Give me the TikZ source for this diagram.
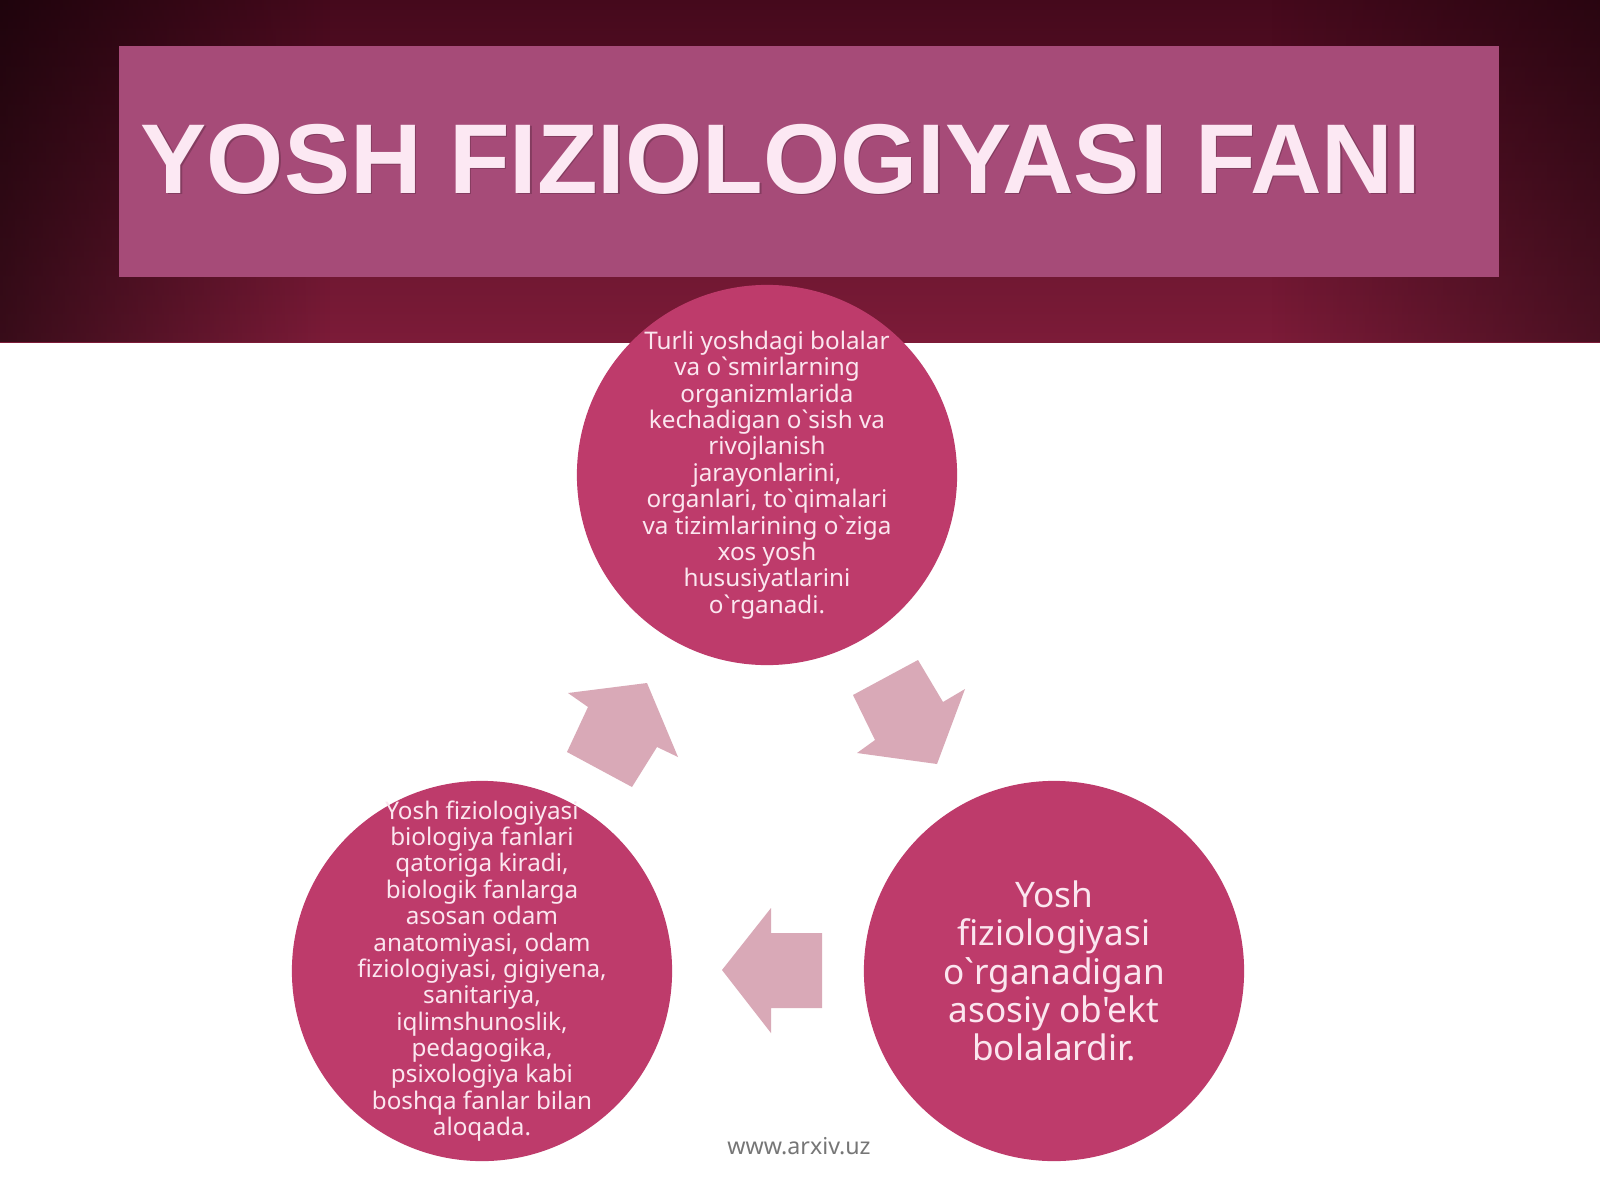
\documentclass[tikz,border=0pt]{standalone}
\usepackage{fontspec}
\newfontfamily\bubblefont{Noto Sans}[Ligatures=TeXOff]
\newfontfamily\titlefont{Liberation Sans}
\usepackage{tikz}
\usetikzlibrary{fadings}
\definecolor{bandtop}{HTML}{45091C}
\definecolor{bandbottom}{HTML}{7C1B38}
\definecolor{titlebox}{HTML}{A64B78}
\definecolor{titletext}{HTML}{FCE8F3}
\definecolor{bubblepink}{HTML}{BE3B6B}
\definecolor{bubbletext}{HTML}{FBE6EF}
\definecolor{arrowpink}{HTML}{D9A9B7}
\definecolor{footergrey}{HTML}{767676}

\begin{document}
\begin{tikzpicture}[
    x = 0.01cm, y = -0.01cm,
    bubble/.style = {circle, fill=bubblepink, minimum size=3.8cm, inner sep=0pt},
    bubblesmall/.style = {align=center, text=bubbletext, inner sep=0pt,
      font=\bubblefont\fontsize{6.9}{7.5}\selectfont},
    bubblebig/.style = {align=center, text=bubbletext, inner sep=0pt,
      font=\bubblefont\fontsize{10}{10.9}\selectfont},
    titlestyle/.style = {anchor=base west, inner sep=0pt,
      font=\titlefont\bfseries\fontsize{28.2}{30}\selectfont},
    blockarrow/.style = {fill=arrowpink}
    ]
    \useasboundingbox (0,0) rectangle (1600,1200);
    \fill[white] (0,0) rectangle (1600,1200);
    % dark red band behind the title
    \shade[top color=bandtop, bottom color=bandbottom] (0,0) rectangle (1600,342);
    \fill[black, opacity=0.55, path fading=east] (0,0) rectangle (330,342);
    \fill[black, opacity=0.4, path fading=west] (1270,0) rectangle (1600,342);
    \fill[titlebox] (119,46) rectangle (1499,277);
    \node[titlestyle, text=black, opacity=0.2] at (141.5,194.5) {YOSH FIZIOLOGIYASI FANI};
    \node[titlestyle, text=titletext] (title) at (140,193) {YOSH FIZIOLOGIYASI FANI};

    \node[bubble] (growth) at (767,475) {};
    \node[bubble] (sciences) at (482,971) {};
    \node[bubble] (object) at (1054,971) {};

    \node[bubblesmall] at (growth) {Turli yoshdagi bolalar\\ va o`smirlarning\\ organizmlarida\\
      kechadigan o`sish va\\ rivojlanish\\ jarayonlarini,\\ organlari, to`qimalari\\
      va tizimlarining o`ziga\\ xos yosh\\ hususiyatlarini\\ o`rganadi.};
    \node[bubblesmall] at (sciences) {Yosh fiziologiyasi\\ biologiya fanlari\\ qatoriga kiradi,\\
      biologik fanlarga\\ asosan odam\\ anatomiyasi, odam\\ fiziologiyasi, gigiyena,\\
      sanitariya,\\ iqlimshunoslik,\\ pedagogika,\\ psixologiya kabi\\ boshqa fanlar bilan\\ aloqada.};
    \node[bubblebig] at (object) {Yosh\\ fiziologiyasi\\ o`rganadigan\\ asosiy ob'ekt\\ bolalardir.};

    \fill[blockarrow] (937,764) -- (857,753) -- (875,740) -- (853,695) -- (918,660)
      -- (943,702) -- (965,689) -- cycle;
    \fill[blockarrow] (722,970) -- (771,908) -- (771,933) -- (822,933) -- (822,1008)
      -- (771,1008) -- (771,1033) -- cycle;
    \fill[blockarrow] (647,683) -- (678,757) -- (657,747) -- (632,787) -- (567,752)
      -- (588,707) -- (568,693) -- cycle;

    \node[anchor=base, text=footergrey, font=\bubblefont\fontsize{6.6}{8}\selectfont]
      (site) at (799,1154) {www.arxiv.uz};
\end{tikzpicture}
\end{document}
